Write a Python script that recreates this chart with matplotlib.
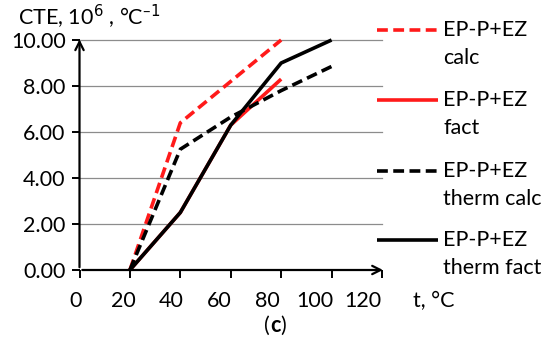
import matplotlib
matplotlib.use("Agg")
import matplotlib.pyplot as plt
from matplotlib.lines import Line2D
from matplotlib.transforms import blended_transform_factory, offset_copy

plt.rcParams['font.family'] = ['Lato', 'DejaVu Sans']

t = [20, 40, 60, 80, 100]
calc = [0.0, 6.4, 8.2, 10.0]
fact = [0.0, 2.5, 6.3, 8.3]
therm_calc = [0.0, 5.25, 6.65, 7.8, 8.85]
therm_fact = [0.0, 2.5, 6.3, 9.0, 10.0]
labels = ["EP-P+EZ\ncalc", "EP-P+EZ\nfact", "EP-P+EZ\ntherm calc", "EP-P+EZ\ntherm fact"]
xticks = [0, 20, 40, 60, 80, 100, 120]
yticks = [0, 2, 4, 6, 8, 10]

FS = 15.5
W, H = 550, 352
fig = plt.figure(figsize=(W / 100, H / 100), dpi=100)
x0, x1, y0, y1 = 79.5, 382, 270, 40
ax = fig.add_axes([x0 / W, 1 - y0 / H, (x1 - x0) / W, (y0 - y1) / H])
ax.set_xlim(0, 120)
ax.set_ylim(0, 10)
for s in ax.spines.values():
    s.set_visible(False)

for yv in yticks[1:]:
    ax.axhline(yv, color='#8c8c8c', lw=0.9, zorder=1, clip_on=False)

lw = 2.6
styles = [
    dict(color='#ff1a1a', ls=(0, (3.0, 1.5))),
    dict(color='#ff1a1a', ls='-'),
    dict(color='black', ls=(0, (3.0, 1.5))),
    dict(color='black', ls='-'),
]
series = [(t[:4], calc), (t[:4], fact), (t, therm_calc), (t, therm_fact)]
zs = [3, 2, 4, 5]
for (xs, ys), st, z in zip(series, styles, zs):
    ax.plot(xs, ys, lw=lw, zorder=z, clip_on=False, solid_capstyle='butt', **st)

# axes with arrows
ax.annotate('', xy=(121.5, 0), xytext=(0, 0), xycoords='data',
            arrowprops=dict(arrowstyle='->', lw=1.6, color='black', mutation_scale=15),
            annotation_clip=False, zorder=6)
ax.annotate('', xy=(0, 10.15), xytext=(0, 0), xycoords='data',
            arrowprops=dict(arrowstyle='->', lw=1.6, color='black', mutation_scale=15),
            annotation_clip=False, zorder=6)

ax.set_xticks(xticks)
ax.set_yticks(yticks)
ax.set_xticklabels([])
ax.set_yticklabels([f"{v:.2f}" for v in yticks])
ax.tick_params(axis='x', length=6, width=1.4, direction='out', color='black')
ax.tick_params(axis='y', length=6, width=1.4, direction='out', labelsize=FS, pad=4, color='black')

# tick labels of the original are slightly compressed relative to the tick marks
k, b = 0.948, -1.39
tr = blended_transform_factory(ax.transData, ax.transAxes)
for v in xticks:
    ax.text(k * v + b, 0, str(v), transform=offset_copy(tr, fig=fig, y=-31, units='dots'),
            ha='center', va='center', fontsize=FS, clip_on=False)

fig.text(18 / W, 1 - 17 / H, 'CTE, 10$^{6}$ , °C$^{–1}$', fontsize=FS, va='center', ha='left')
fig.text(413 / W, 1 - 301 / H, 't, °C', fontsize=FS, va='center', ha='left')
fig.text(270 / W, 1 - 326 / H, '(', fontsize=FS, va='center', ha='right')
fig.text(275 / W, 1 - 326 / H, 'c', fontsize=FS, va='center', ha='center', fontweight='bold')
fig.text(280 / W, 1 - 326 / H, ')', fontsize=FS, va='center', ha='left')

ys_leg = [30, 100, 171, 240]
for yl, st, lab in zip(ys_leg, styles, labels):
    fig.add_artist(Line2D([377 / W, 438 / W], [1 - yl / H, 1 - yl / H], lw=lw,
                          transform=fig.transFigure, solid_capstyle='butt', **st))
    l1, l2 = lab.split('\n')
    fig.text(443 / W, 1 - yl / H, l1, fontsize=FS, va='center', ha='left')
    fig.text(443 / W, 1 - (yl + 28) / H, l2, fontsize=FS, va='center', ha='left')

fig.savefig('out.png', dpi=100)
